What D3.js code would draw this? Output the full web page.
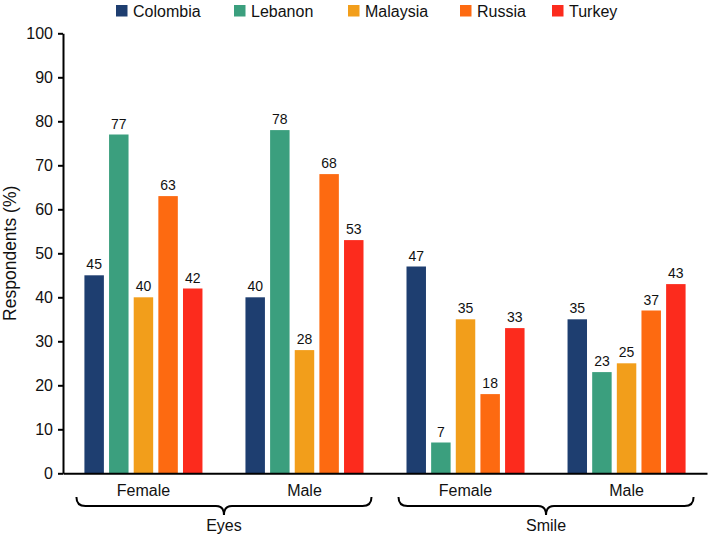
<!DOCTYPE html>
<html>
<head>
<meta charset="utf-8">
<script src="https://cdn.jsdelivr.net/npm/d3@7"></script>
<style>
  html, body { margin: 0; padding: 0; background: #fff; }
  svg { display: block; font-family: "Liberation Sans", Arial, sans-serif; }
</style>
</head>
<body>
<svg id="chart" width="709" height="536"></svg>
<script>
// ---- data ----
const countries = ["Colombia", "Lebanon", "Malaysia", "Russia", "Turkey"];
const features = ["Eyes", "Eyes", "Smile", "Smile"];
const genders = ["Female", "Male", "Female", "Male"];
const colombia = [45, 40, 47, 35];
const lebanon = [77, 78, 7, 23];
const malaysia = [40, 28, 35, 25];
const russia = [63, 68, 18, 37];
const turkey = [42, 53, 33, 43];
const yTicks = [0, 10, 20, 30, 40, 50, 60, 70, 80, 90, 100];
const featureNames = ["Eyes", "Smile"];

const seriesValues = [colombia, lebanon, malaysia, russia, turkey];
const colors = ["#1e3e70", "#3b9f7e", "#f29e1b", "#fd6a11", "#fc2b1d"];

(function () {
const svg = d3.select("#chart");
const FONT = '"Liberation Sans", Arial, sans-serif';

const pLeft = 63, pRight = 707, pTop = 33.3, pBottom = 473.3;
const groupIds = genders.map((g, i) => i);

const x0 = d3.scaleBand().domain(groupIds).range([pLeft, pRight])
  .paddingInner(0.267).paddingOuter(0.133);
const x1 = d3.scaleBand().domain(countries).range([0, x0.bandwidth()])
  .paddingInner(0.21).paddingOuter(0);
const y = d3.scaleLinear().domain([0, 100]).range([pBottom, pTop]);
const color = d3.scaleOrdinal().domain(countries).range(colors);

// bars
const rows = [];
groupIds.forEach(gi => {
  countries.forEach((c, ci) => rows.push({ gi, c, v: seriesValues[ci][gi] }));
});

const g = svg.append("g");
g.selectAll("rect.bar").data(rows).enter().append("rect")
  .attr("class", "bar")
  .attr("x", d => x0(d.gi) + x1(d.c))
  .attr("width", x1.bandwidth())
  .attr("y", d => y(d.v))
  .attr("height", d => y(0) - y(d.v))
  .attr("fill", d => color(d.c));

g.selectAll("text.val").data(rows).enter().append("text")
  .attr("class", "val")
  .attr("x", d => x0(d.gi) + x1(d.c) + x1.bandwidth() / 2)
  .attr("y", d => y(d.v) - 6)
  .attr("text-anchor", "middle")
  .attr("font-size", 14)
  .attr("fill", "#111")
  .text(d => d.v);

// y axis
const yAxis = d3.axisLeft(y).tickValues(yTicks).tickSize(5).tickPadding(5).tickSizeOuter(0);
const ya = svg.append("g").attr("transform", `translate(${pLeft},0)`).call(yAxis);
ya.select(".domain").attr("stroke", "#000").attr("stroke-width", 2);
ya.selectAll(".tick line").attr("stroke", "#000").attr("stroke-width", 2);
ya.selectAll(".tick text").attr("font-size", 16).attr("font-family", FONT).attr("fill", "#111");

// x axis line
const xAxis = d3.axisBottom(x0).tickSize(0).tickSizeOuter(0).tickFormat(() => "");
const xa = svg.append("g").attr("transform", `translate(0,${pBottom})`).call(xAxis);
xa.select(".domain").attr("stroke", "#000").attr("stroke-width", 2);

// gender labels
svg.selectAll("text.gender").data(groupIds).enter().append("text")
  .attr("class", "gender")
  .attr("x", d => x0(d) + x0.bandwidth() / 2)
  .attr("y", 496)
  .attr("text-anchor", "middle")
  .attr("font-size", 16)
  .attr("fill", "#111")
  .text(d => genders[d]);

// braces
featureNames.forEach(f => {
  const ids = groupIds.filter(i => features[i] === f);
  const a = x0(ids[0]) - 8;
  const b = x0(ids[ids.length - 1]) + x0.bandwidth() + 8;
  const cx = (a + b) / 2;
  const yt = 497, ym = 506, yb = 515;
  const p = `M${a},${yt} Q${a},${ym} ${a + 9},${ym} L${cx - 8},${ym} Q${cx},${ym} ${cx},${yb} ` +
            `Q${cx},${ym} ${cx + 8},${ym} L${b - 9},${ym} Q${b},${ym} ${b},${yt}`;
  svg.append("path").attr("d", p).attr("fill", "none").attr("stroke", "#000").attr("stroke-width", 2);
  svg.append("text").attr("x", cx).attr("y", 531).attr("text-anchor", "middle")
    .attr("font-size", 16).attr("fill", "#111").text(f);
});

// y title
svg.append("text")
  .attr("transform", `translate(16,${(pTop + pBottom) / 2}) rotate(-90)`)
  .attr("text-anchor", "middle")
  .attr("font-size", 17.5)
  .attr("fill", "#111")
  .text("Respondents (%)");

// legend
const legendX = [116, 234, 348, 460, 552];
const lg = svg.selectAll("g.leg").data(countries).enter().append("g")
  .attr("class", "leg")
  .attr("transform", (d, i) => `translate(${legendX[i]},0)`);
lg.append("rect").attr("x", 0).attr("y", 5).attr("width", 11.5).attr("height", 11.5)
  .attr("fill", d => color(d));
lg.append("text").attr("x", 17).attr("y", 16.5).attr("font-size", 16).attr("fill", "#111").text(d => d);
})();
</script>
</body>
</html>
